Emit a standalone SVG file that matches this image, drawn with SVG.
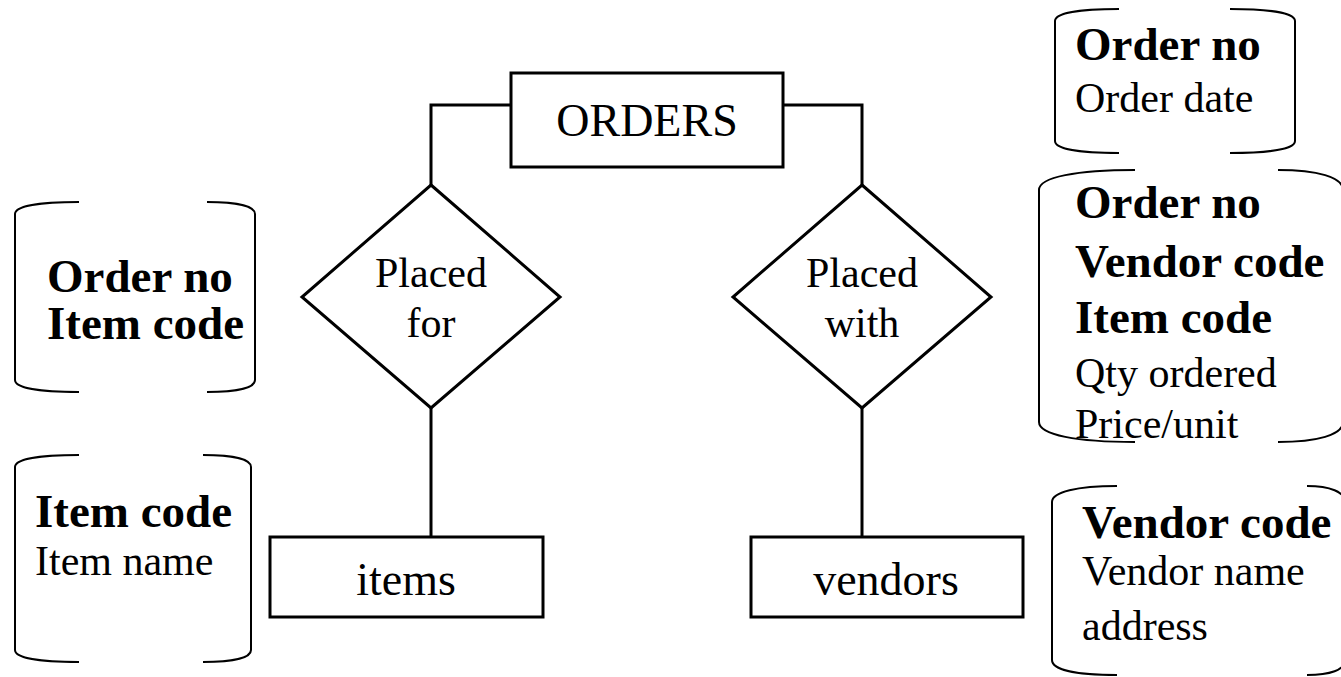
<svg xmlns="http://www.w3.org/2000/svg" width="1341" height="677" viewBox="0 0 1341 677">
<style>
.box{fill:#fff;stroke:#000;stroke-width:3}
.dia{fill:#fff;stroke:#000;stroke-width:3;stroke-linejoin:miter}
.link{fill:none;stroke:#000;stroke-width:3}
.brk{fill:none;stroke:#000;stroke-width:2}
text{font-family:"Liberation Serif","Times New Roman",serif;fill:#000}
.lbl{font-size:46px;text-anchor:middle}
.rel{font-size:42px;text-anchor:middle}
.key{font-size:47px;font-weight:bold}
.att{font-size:42px}
</style>
<rect width="1341" height="677" fill="#fff"/>
<g id="connectors">
<path class="link" d="M511,105 H431 V185"/>
<path class="link" d="M783,105 H862 V185"/>
<path class="link" d="M431,408 V537"/>
<path class="link" d="M862,408 V537"/>
</g>
<g id="orders">
<rect class="box" x="511" y="73" width="272" height="94"/>
<text class="lbl" x="647" y="136">ORDERS</text>
</g>
<g id="placed-for">
<polygon class="dia" points="431,185 560,297 431,408 302,297"/>
<text class="rel" x="431" y="287">Placed</text>
<text class="rel" x="431" y="337">for</text>
</g>
<g id="placed-with">
<polygon class="dia" points="862,185 991,297 862,408 733,297"/>
<text class="rel" x="862" y="287">Placed</text>
<text class="rel" x="862" y="337">with</text>
</g>
<g id="items">
<rect class="box" x="270" y="537" width="273" height="80"/>
<text class="lbl" x="406" y="595">items</text>
</g>
<g id="vendors">
<rect class="box" x="751" y="537" width="272" height="80"/>
<text class="lbl" x="886" y="595">vendors</text>
</g>
<g id="attr-placed-for">
<path class="brk" d="M79,202 C40,202 15,206 15,214 V380 C15,388 40,392 79,392"/>
<path class="brk" d="M207,202 C236,202 255,206 255,214 V380 C255,388 236,392 207,392"/>
<text class="key" x="47" y="292">Order no</text>
<text class="key" x="47" y="339">Item code</text>
</g>
<g id="attr-items">
<path class="brk" d="M79,455 C40,455 15,459 15,467 V650 C15,658 40,662 79,662"/>
<path class="brk" d="M203,455 C232,455 251,459 251,467 V650 C251,658 232,662 203,662"/>
<text class="key" x="35" y="527">Item code</text>
<text class="att" x="35" y="575">Item name</text>
</g>
<g id="attr-orders">
<path class="brk" d="M1119,9 C1080,9 1055,13 1055,21 V141 C1055,149 1080,153 1119,153"/>
<path class="brk" d="M1230,9 C1269,9 1295,13 1295,21 V141 C1295,149 1269,153 1230,153"/>
<text class="key" x="1075" y="60">Order no</text>
<text class="att" x="1075" y="112">Order date</text>
</g>
<g id="attr-placed-with">
<path class="brk" d="M1135,170 C1077,170 1039,177 1039,190 V422 C1039,435 1077,442 1135,442"/>
<path class="brk" d="M1278,170 C1317,170 1343,177 1343,190 V422 C1343,435 1317,442 1278,442"/>
<text class="key" x="1075" y="218">Order no</text>
<text class="key" x="1075" y="277">Vendor code</text>
<text class="key" x="1075" y="333">Item code</text>
<text class="att" x="1075" y="387">Qty ordered</text>
<text class="att" x="1075" y="438">Price/unit</text>
</g>
<g id="attr-vendors">
<path class="brk" d="M1117,486 C1077,486 1052,492 1052,502 V660 C1052,670 1077,675 1117,675"/>
<path class="brk" d="M1307,486 C1330,486 1345,492 1345,502 V660 C1345,670 1330,675 1307,675"/>
<text class="key" x="1082" y="538">Vendor code</text>
<text class="att" x="1082" y="585">Vendor name</text>
<text class="att" x="1082" y="640">address</text>
</g>
</svg>
